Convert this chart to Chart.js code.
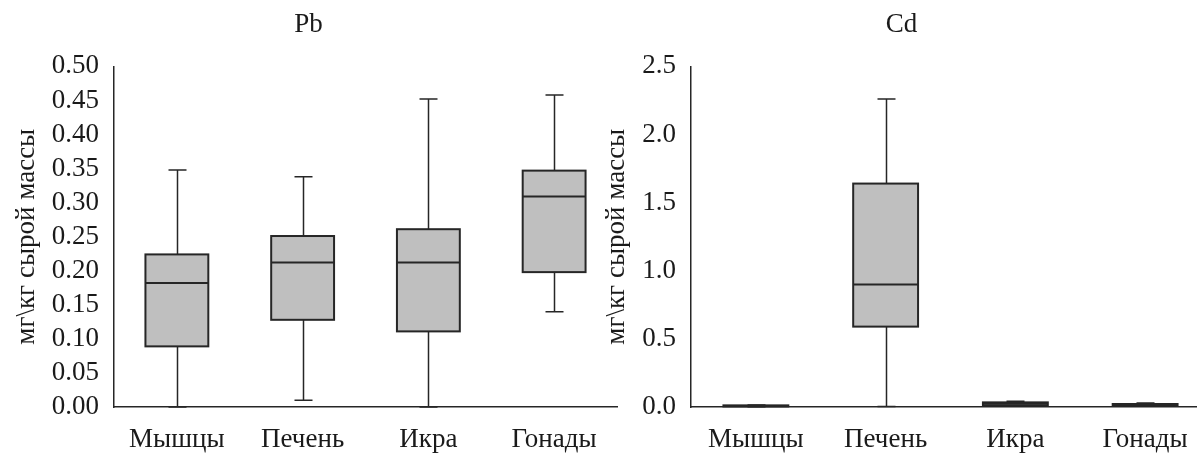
<!DOCTYPE html>
<html lang="ru">
<head>
<meta charset="utf-8">
<title>Pb и Cd в тканях рыб</title>
<script src="https://cdn.jsdelivr.net/npm/chart.js@4.4.1/dist/chart.umd.min.js"></script>
<style>
  html, body { margin: 0; padding: 0; background: #fff; }
  body { position: relative; width: 1197px; height: 453px; overflow: hidden; }
  .panel { position: absolute; top: 0; }
  #pbBox { left: 0px; }
  #cdBox { left: 593px; }
</style>
</head>
<body>
<div class="panel" id="pbBox"><canvas id="pbChart" width="626" height="453"></canvas></div>
<div class="panel" id="cdBox"><canvas id="cdChart" width="626" height="453"></canvas></div>
<script>
// Tissue categories
const categories = ['Мышцы', 'Печень', 'Икра', 'Гонады'];

// Pb, mg/kg wet weight: five-number summaries
const pbMin    = [0.000, 0.010, 0.000, 0.140];
const pbQ1     = [0.089, 0.128, 0.111, 0.198];
const pbMedian = [0.182, 0.212, 0.212, 0.309];
const pbQ3     = [0.224, 0.251, 0.261, 0.347];
const pbMax    = [0.348, 0.338, 0.452, 0.458];

// Cd, mg/kg wet weight: five-number summaries
const cdMin    = [0.002, 0.003, 0.006, 0.005];
const cdQ1     = [0.004, 0.590, 0.012, 0.010];
const cdMedian = [0.007, 0.900, 0.024, 0.016];
const cdQ3     = [0.012, 1.640, 0.034, 0.022];
const cdMax    = [0.014, 2.260, 0.043, 0.030];

// Axis tick settings
const pbTicks = { min: 0, max: 0.5, step: 0.05, digits: 2 };
const cdTicks = { min: 0, max: 2.5, step: 0.5, digits: 1 };

const yTitle = 'мг\\кг сырой массы';
const FONT = "'Liberation Serif', 'Times New Roman', serif";
const FONT_SIZE = 27;
const INK = '#1a1a1a';
const LINE = '#262626';
const BOX_FILL = '#bfbfbf';

// Draws box outlines, whiskers, caps and median lines using the chart scales
const whiskerPlugin = {
  id: 'whiskers',
  afterDatasetsDraw(chart, args, opts) {
    const { ctx, scales: { x, y } } = chart;
    const meta = chart.getDatasetMeta(0);
    ctx.save();
    ctx.strokeStyle = LINE;
    opts.min.forEach((lo, i) => {
      const cx = Math.round(x.getPixelForValue(i)) + 0.5;
      const bar = meta.data[i];
      const half = bar.width / 2;
      const cap = 9;
      const yMin = y.getPixelForValue(lo);
      const yQ1 = y.getPixelForValue(opts.q1[i]);
      const yQ3 = y.getPixelForValue(opts.q3[i]);
      const yMax = y.getPixelForValue(opts.max[i]);
      const yMed = y.getPixelForValue(opts.median[i]);
      // whiskers and caps
      ctx.lineWidth = 1.5;
      ctx.beginPath();
      ctx.moveTo(cx, yQ3); ctx.lineTo(cx, yMax);
      ctx.moveTo(cx - cap, yMax); ctx.lineTo(cx + cap, yMax);
      ctx.moveTo(cx, yQ1); ctx.lineTo(cx, yMin);
      ctx.moveTo(cx - cap, yMin); ctx.lineTo(cx + cap, yMin);
      ctx.stroke();
      // box outline, centred on the box edges
      ctx.lineWidth = 2;
      ctx.strokeRect(bar.x - half, yQ3, half * 2, yQ1 - yQ3);
      // median
      ctx.beginPath();
      ctx.moveTo(bar.x - half, yMed); ctx.lineTo(bar.x + half, yMed);
      ctx.stroke();
    });
    ctx.restore();
  }
};

function makeChart(canvasId, titleText, stats, tickCfg, yWidth, yTitlePad) {
  const boxes = stats.q1.map((q, i) => [q, stats.q3[i]]);
  return new Chart(document.getElementById(canvasId), {
    type: 'bar',
    data: {
      labels: categories,
      datasets: [{
        data: boxes,
        backgroundColor: BOX_FILL,
        borderWidth: 0,
        categoryPercentage: 1,
        barPercentage: 0.5
      }]
    },
    options: {
      responsive: false,
      animation: false,
      devicePixelRatio: 1,
      layout: { padding: { left: 0, right: 9, top: 0, bottom: 0 } },
      plugins: {
        legend: { display: false },
        tooltip: { enabled: false },
        title: {
          display: true,
          text: titleText,
          color: INK,
          font: { family: FONT, size: FONT_SIZE, weight: 'normal' },
          padding: { top: 9, bottom: 25 }
        },
        whiskers: stats
      },
      scales: {
        x: {
          offset: true,
          grid: { display: false, drawTicks: false },
          border: { display: true, color: LINE, width: 1.5 },
          ticks: { color: INK, padding: 17, autoSkip: false, maxRotation: 0, font: { family: FONT, size: FONT_SIZE } },
          afterFit: s => { s.height = 46; }
        },
        y: {
          min: tickCfg.min,
          max: tickCfg.max,
          grid: { display: false, drawTicks: false },
          border: { display: true, color: LINE, width: 1.5 },
          ticks: {
            stepSize: tickCfg.step,
            autoSkip: false,
            color: INK,
            padding: 15,
            font: { family: FONT, size: FONT_SIZE, lineHeight: 1 },
            callback: v => Number(v).toFixed(tickCfg.digits)
          },
          title: {
            display: true,
            text: yTitle,
            color: INK,
            font: { family: FONT, size: FONT_SIZE },
            padding: { top: yTitlePad, bottom: 0 }
          },
          afterFit: s => { s.width = yWidth; }
        }
      }
    },
    plugins: [whiskerPlugin]
  });
}

makeChart('pbChart', 'Pb',
  { min: pbMin, q1: pbQ1, median: pbMedian, q3: pbQ3, max: pbMax },
  pbTicks, 114, 11);

makeChart('cdChart', 'Cd',
  { min: cdMin, q1: cdQ1, median: cdMedian, q3: cdQ3, max: cdMax },
  cdTicks, 98, 8);
</script>
</body>
</html>
